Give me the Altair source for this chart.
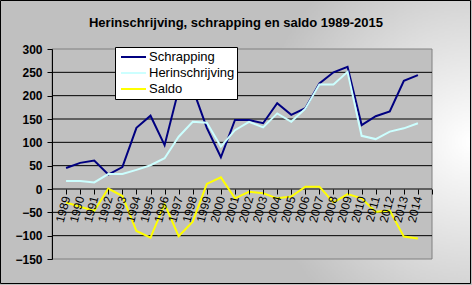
import altair as alt
import pandas as pd

# ---- data ----
years = list(range(1989, 2015))
schrapping = [45, 56, 61, 31, 47, 131, 157, 94, 213, 215, 131, 68, 148, 148,
              141, 184, 159, 173, 226, 250, 262, 137, 156, 166, 232, 244]
herinschrijving = [17, 17, 14, 32, 32, 41, 51, 66, 112, 144, 142, 91, 126, 144,
                   132, 162, 144, 172, 224, 224, 251, 114, 107, 123, 130, 141]
saldo = [-29, -38, -47, 1, -15, -90, -104, -32, -101, -70, 11, 25, -20, -6,
         -9, -20, -16, 5, 5, -29, -11, -20, -49, -46, -102, -106]
series_names = ["Schrapping", "Herinschrijving", "Saldo"]
series_colors = ["#000080", "#ccffff", "#ffff00"]
y_ticks = list(range(-150, 301, 50))
grid_values = list(range(-100, 251, 50))
x_ticks = list(range(1988, 2016))
title_text = "Herinschrijving, schrapping en saldo 1989-2015"

# ---- layout ----
W, H = 380, 210
PL, PT, PR, PB = 52, 49, 40, 26
FONT = "Liberation Sans"

rows = []
for name, vals in zip(series_names, [schrapping, herinschrijving, saldo]):
    for yr, v in zip(years, vals):
        rows.append({"jaar": yr, "waarde": v, "reeks": name})
df = pd.DataFrame(rows)
one = pd.DataFrame({"k": [0]})
grid_df = pd.DataFrame({"waarde": grid_values})

x_scale = alt.Scale(domain=[1988, 2015], nice=False, zero=False)
y_scale = alt.Scale(domain=[-150, 300], nice=False, zero=False)
y_axis = alt.Axis(values=y_ticks, labelFontSize=12, labelFontWeight="bold",
                  labelPadding=5, zindex=1, title=None, grid=False)

bg = alt.Chart(one).mark_rect(
    fill={"gradient": "radial", "x1": 1, "y1": 0.5, "r1": 0,
          "x2": 1, "y2": 0.5, "r2": 0.45,
          "stops": [{"offset": 0, "color": "#ffffff"},
                    {"offset": 1, "color": "#c0c0c0"}]},
    stroke="#000000", strokeWidth=1,
).encode(x=alt.value(-PL + 0.5), x2=alt.value(W + PR - 1.5),
         y=alt.value(-PT + 0.5), y2=alt.value(H + PB - 1.5))

plot_bg = alt.Chart(one).mark_rect(
    fill="#c0c0c0", stroke="#808080", strokeWidth=1
).encode(x=alt.value(0), x2=alt.value(W), y=alt.value(0), y2=alt.value(H))

grid = alt.Chart(grid_df).mark_rule(color="#000000", strokeWidth=1).encode(
    y=alt.Y("waarde:Q", scale=y_scale, axis=y_axis)
)

title = alt.Chart(one).mark_text(
    text=title_text, font=FONT, fontSize=13, fontWeight="bold",
    align="center", baseline="alphabetic", color="#000000",
).encode(x=alt.value(236 - PL), y=alt.value(26.5 - PT))

lines = alt.Chart(df).mark_line(strokeWidth=2).encode(
    x=alt.X("jaar:Q", scale=x_scale,
            axis=alt.Axis(values=x_ticks,
                          labelExpr="datum.value >= 1989 && datum.value <= 2014 ? format(datum.value, 'd') : ''",
                          offset=-70, domain=False, labelAngle=-75,
                          labelAlign="right", labelBaseline="middle",
                          labelPadding=2, labelFontSize=12,
                          labelFontWeight="normal",
                          labelOverlap=False, labelFlush=False, labelBound=False,
                          zindex=1, title=None)),
    y=alt.Y("waarde:Q", scale=y_scale, axis=y_axis),
    color=alt.Color("reeks:N",
                    scale=alt.Scale(domain=series_names, range=series_colors),
                    legend=alt.Legend(orient="none", legendX=63, legendY=-2,
                                      title=None, fillColor="#ffffff",
                                      strokeColor="#000000", padding=2,
                                      symbolType="stroke", symbolSize=625,
                                      symbolStrokeWidth=2, symbolOffset=3,
                                      labelFont=FONT, labelFontSize=13,
                                      labelColor="#000000", labelOffset=2,
                                      rowPadding=0, clipHeight=16)),
    detail="reeks:N",
)

chart = alt.layer(bg, plot_bg, grid, lines, title).properties(
    width=W, height=H,
    padding={"left": PL, "top": PT, "right": PR, "bottom": PB},
    autosize=alt.AutoSizeParams(type="none"),
    background="#c0c0c0",
).configure_view(stroke=None).configure_axis(
    grid=False, domainColor="#000000", tickColor="#000000",
    tickSize=5, labelFont=FONT, labelColor="#000000",
)

chart.save("out.html", embed_options={"renderer": "svg", "actions": False})
